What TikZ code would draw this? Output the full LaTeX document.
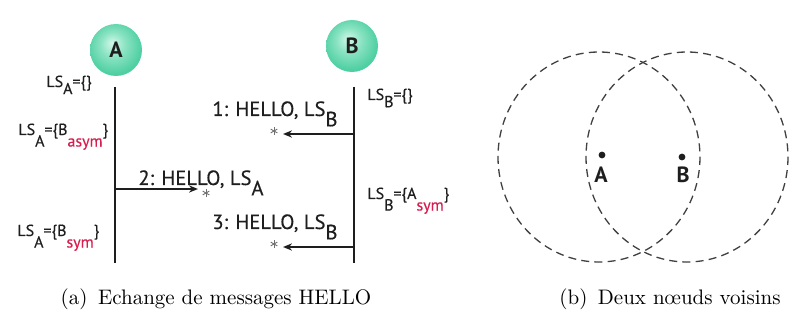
\documentclass[tikz,border=0pt]{standalone}
\usepackage{fontspec}
\newfontfamily\lsfont{PT Sans}[FakeBold=0.4]
\newfontfamily\lsbold{PT Sans Bold}
\usetikzlibrary{arrows.meta}

\definecolor{ink}{HTML}{1E1E1E}
\definecolor{symred}{HTML}{D81E4F}
\definecolor{startone}{HTML}{707070}
\definecolor{mintA}{HTML}{D2F8EA}
\definecolor{mintB}{HTML}{8AE3C2}
\definecolor{mintC}{HTML}{4CCEA1}
\definecolor{mintD}{HTML}{6FD8B2}

% soft mint ball with its highlight towards the top
\pgfdeclareradialshading{mintball}{\pgfpoint{-4bp}{7bp}}{%
  color(0bp)=(mintA); color(12bp)=(mintB); color(27bp)=(mintC);
  color(31bp)=(mintD); color(50bp)=(mintD)}

% lowered index, as in LS with its node letter underneath
\newcommand\lowsub[2][0.72em]{\raisebox{-#1}{#2}}
\newcommand\redsub[1]{\lowsub{\textcolor{symred}{#1}}}

\begin{document}
\begin{tikzpicture}[x=0.5pt,y=-0.5pt,
  ballnode/.style={circle, minimum size=26pt, inner sep=0pt, shading=mintball,
    font=\lsbold\fontsize{11}{12}\selectfont, text=ink},
  life/.style={draw=ink, line width=1pt},
  sendarrow/.style={draw=ink, line width=1pt, -{Stealth[length=4.5pt,width=3.6pt]}},
  msg/.style={font=\lsfont\fontsize{10.3}{12}\selectfont, text=ink, inner sep=0pt, anchor=base west},
  state/.style={font=\lsfont\fontsize{8}{9}\selectfont, text=ink, inner sep=0pt, anchor=base west},
  % small six-armed asterisk at the free end of a broadcast
  starmark/.style={minimum size=4pt, inner sep=0pt,
    path picture={\foreach \ang in {90,30,-30}
      \draw[startone, line width=0.45pt, shift={(path picture bounding box.center)}]
        (\ang:1.9pt) -- (\ang+180:1.9pt);}},
  reach/.style={draw=ink!85, line width=0.65pt, dash pattern=on 4pt off 2.6pt},
  dot/.style={circle, fill=ink, minimum size=3.4pt, inner sep=0pt},
  ptlabel/.style={font=\lsbold\fontsize{11}{12}\selectfont, text=ink, inner sep=0pt, anchor=base},
  caption/.style={font=\fontsize{10.5}{12}\selectfont, inner sep=0pt, anchor=base}]

\useasboundingbox (0,0) rectangle (794,326);

% ---------- (a) exchange of HELLO messages ----------
\node[ballnode] (A) at (116,50) {A};
\node[ballnode] (B) at (352,46) {B};

\coordinate (Atop) at (115,87);
\coordinate (Abot) at (115,263);
\coordinate (Btop) at (354,87);
\coordinate (Bbot) at (354,263);
\draw[life] (Atop) -- (Abot);
\draw[life] (Btop) -- (Bbot);

% message 1: B broadcasts
\coordinate (m1s) at (354,134);
\coordinate (m1e) at (283,134);
\draw[sendarrow] (m1s) -- (m1e);
\node[starmark] (st1) at (274,131) {};
\node[msg] (l1) at (212,116) {1: HELLO, LS\lowsub[0.5em]{B}};

% message 2: A broadcasts
\coordinate (m2s) at (115,189);
\coordinate (m2e) at (198,189);
\draw[sendarrow] (m2s) -- (m2e);
\node[starmark] (st2) at (206,193) {};
\node[msg] (l2) at (138,185) {2: HELLO, LS\lowsub[0.5em]{A}};

% message 3: B broadcasts again
\coordinate (m3s) at (354,247);
\coordinate (m3e) at (283,247);
\draw[sendarrow] (m3s) -- (m3e);
\node[starmark] (st3) at (274,244) {};
\node[msg] (l3) at (212,229) {3: HELLO, LS\lowsub[0.5em]{B}};

% neighbour sets kept by A
\node[state] (sA0) at (46,87) {LS\lowsub[0.45em]{A}=\{\}};
\node[state] (sA1) at (18,135) {LS\lowsub{A}=\{B\redsub{asym}\}};
\node[state] (sA2) at (17,236) {LS\lowsub{A}=\{B\redsub{sym}\}};

% neighbour sets kept by B
\node[state] (sB0) at (367,100) {LS\lowsub[0.45em]{B}=\{\}};
\node[state] (sB1) at (367,199) {LS\lowsub{B}=\{A\redsub{sym}\}};

\node[caption] (capa) at (216,305) {(a)\enspace Echange de messages HELLO};

% ---------- (b) two neighbouring nodes ----------
\draw[reach] (599,157) ellipse [x radius=101, y radius=105];
\draw[reach] (687,157) ellipse [x radius=101, y radius=105];

\node[dot] (pA) at (602,155) {};
\node[dot] (pB) at (682,157) {};
\node[ptlabel] (nA) at (601,183) {A};
\node[ptlabel] (nB) at (683,183) {B};

\node[caption] (capb) at (670,305) {(b)\enspace Deux n\oe uds voisins};
\end{tikzpicture}
\end{document}
